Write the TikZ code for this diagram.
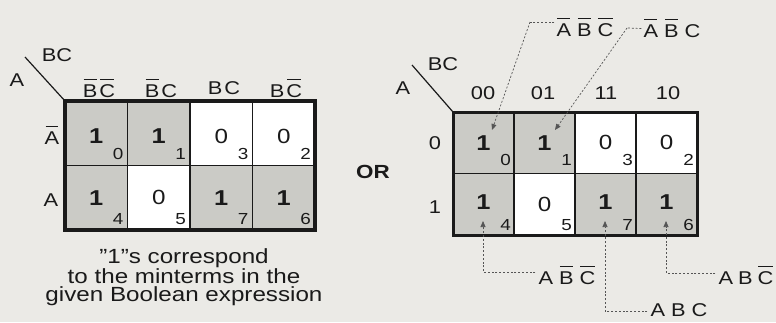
\documentclass[tikz,border=0pt]{standalone}
\usepackage{fontspec}
\setmainfont[FakeStretch=1.18]{Liberation Sans}
\usetikzlibrary{arrows.meta}
\definecolor{bgc}{HTML}{EBEAE6}
\definecolor{cellg}{HTML}{CBCBC6}
\definecolor{ink}{HTML}{1A1A1A}
\definecolor{dashc}{HTML}{555555}
\newcommand{\nb}[1]{\setbox0\hbox{#1}\rlap{\kern0.8pt\raisebox{\dimexpr\ht0+4.5pt\relax}{\rule{\dimexpr\wd0-1.6pt\relax}{1.4pt}}}\box0}
\tikzset{
  lcell/.style={draw=ink, line width=1.6pt, minimum width=62.5pt, minimum height=64.5pt, inner sep=0pt, outer sep=0pt},
  rcell/.style={draw=ink, line width=1.4pt, minimum width=61pt, minimum height=61.5pt, inner sep=0pt, outer sep=0pt},
  gr/.style={fill=cellg},
  wh/.style={fill=white},
  one/.style={font=\fontsize{21.5}{21.5}\selectfont\bfseries, text=ink, inner sep=0pt},
  zero/.style={font=\fontsize{20.5}{20.5}\selectfont, text=ink, inner sep=0pt},
  sub/.style={font=\fontsize{16}{16}\selectfont, text=ink, inner sep=0pt, anchor=base east},
  hdr/.style={font=\fontsize{18.5}{18.5}\selectfont, text=ink, inner sep=0pt},
  lbl/.style={font=\fontsize{18.5}{18.5}\selectfont, text=ink, inner sep=0pt},
  conn/.style={draw=dashc, line width=0.7pt, dash pattern=on 2pt off 1.8pt},
  tipa/.style={-{Triangle[length=6pt,width=5pt]}},
}
\begin{document}
\begin{tikzpicture}[x=1pt,y=-1pt]
\fill[bgc] (0,0) rectangle (776,322);
\useasboundingbox (0,0) rectangle (776,322);
% ---------- left map ----------
\node[lcell,gr] (L0) at (96.25,133.25) {};
\node[lcell,gr] (L1) at (158.75,133.25) {};
\node[lcell,wh] (L3) at (221.25,133.25) {};
\node[lcell,wh] (L2) at (283.75,133.25) {};
\node[lcell,gr] (L4) at (96.25,197.75) {};
\node[lcell,wh] (L5) at (158.75,197.75) {};
\node[lcell,gr] (L7) at (221.25,197.75) {};
\node[lcell,gr] (L6) at (283.75,197.75) {};
\draw[ink, line width=3.5pt] (L0.north west) rectangle (L6.south east);
\node[one] at ([yshift=-3pt]L0.center) {1};
\node[one] at ([yshift=-3pt]L1.center) {1};
\node[zero] at ([yshift=-3pt]L3.center) {0};
\node[zero] at ([yshift=-3pt]L2.center) {0};
\node[one] at (L4.center) {1};
\node[zero] at (L5.center) {0};
\node[one] at (L7.center) {1};
\node[one] at (L6.center) {1};
\foreach \c/\n in {L0/0,L1/1,L3/3,L2/2,L4/4,L5/5,L7/7,L6/6}
  \node[sub] at ([xshift=-4pt,yshift=6pt]\c.south east) {\n};
\node[hdr] (lh0) at (99,88) {\nb{B}\kern2pt\nb{C}};
\node[hdr] (lh1) at (161,88) {\nb{B}\kern2pt C};
\node[hdr] (lh3) at (224,88) {B\kern2pt C};
\node[hdr] (lh2) at (286,88) {B\kern2pt\nb{C}};
\node[hdr] (lrA0) at (52,135) {\nb{A}};
\node[hdr] (lrA1) at (51,200) {A};
\node[hdr] (lA) at (17,80) {A};
\node[hdr] (lBC) at (57,55) {BC};
\coordinate (ld0) at (25,57);
\draw[ink, line width=1.2pt] (ld0) -- (L0.north west);
\node[font=\fontsize{20.5}{18.5}\selectfont, text=ink, align=center, inner sep=0pt] (cap) at (184,277)
  {"1"s correspond\\to the minterms in the\\given Boolean expression};
% ---------- right map ----------
\node[rcell,gr] (R0) at (483.5,142.75) {};
\node[rcell,gr] (R1) at (544.5,142.75) {};
\node[rcell,wh] (R3) at (605.5,142.75) {};
\node[rcell,wh] (R2) at (666.5,142.75) {};
\node[rcell,gr] (R4) at (483.5,204.25) {};
\node[rcell,wh] (R5) at (544.5,204.25) {};
\node[rcell,gr] (R7) at (605.5,204.25) {};
\node[rcell,gr] (R6) at (666.5,204.25) {};
\draw[ink, line width=3pt] (R0.north west) rectangle (R6.south east);
\node[one] (v0) at (R0.center) {1};
\node[one] (v1) at (R1.center) {1};
\node[zero] at (R3.center) {0};
\node[zero] at (R2.center) {0};
\node[one] (v4) at ([yshift=2pt]R4.center) {1};
\node[zero] at (R5.center) {0};
\node[one] (v7) at ([yshift=2pt]R7.center) {1};
\node[one] (v6) at ([yshift=2pt]R6.center) {1};
\foreach \c/\n in {R0/0,R1/1,R3/3,R2/2}
  \node[sub] at ([xshift=-3pt,yshift=8pt]\c.south east) {\n};
\foreach \c/\n in {R4/4,R5/5,R7/7,R6/6}
  \node[sub] at ([xshift=-3pt,yshift=5pt]\c.south east) {\n};
\node[hdr] (rh0) at (483,93) {00};
\node[hdr] (rh1) at (543,93) {01};
\node[hdr] (rh3) at (606,93) {11};
\node[hdr] (rh2) at (668,93) {10};
\node[hdr] (rr0) at (435,143) {0};
\node[hdr] (rr1) at (435,207) {1};
\node[hdr] (rA) at (403,88) {A};
\node[hdr] (rBC) at (443,64) {BC};
\coordinate (rd0) at (412,65);
\draw[ink, line width=1.2pt] (rd0) -- (R0.north west);
\node[font=\fontsize{19}{19}\selectfont\bfseries, text=ink, inner sep=0pt] (or) at (373,172) {OR};
% labels
\node[lbl] (t0) at (585,27) {\nb{A}\hspace{6pt}\nb{B}\hspace{6pt}\nb{C}};
\node[lbl] (t1) at (672,28.5) {\nb{A}\hspace{6pt}\nb{B}\hspace{6pt}C};
\node[lbl] (b4) at (567,275) {A\hspace{6pt}\nb{B}\hspace{6pt}\nb{C}};
\node[lbl] (b7) at (679,310) {A\hspace{6pt}B\hspace{6pt}C};
\node[lbl] (b6) at (746,275) {A\hspace{5pt}B\hspace{5pt}\nb{C}};
% connector targets
\coordinate (a0) at (492,130);
\coordinate (a1) at (555,130);
\coordinate (a4) at (483,221);
\coordinate (a7) at (605,221);
\coordinate (a6) at (666,221);
\coordinate (k0) at (530,22);
\coordinate (k1) at (627,28);
\draw[conn] ([xshift=-2pt,yshift=5pt]t0.west) -- (k0);
\draw[conn,tipa] (k0) -- (a0);
\draw[conn] ([xshift=-2pt]t1.west) -- (k1);
\draw[conn,tipa] (k1) -- (a1);
\draw[conn,tipa] ([xshift=-3pt,yshift=3pt]b4.west) -| (a4);
\draw[conn,tipa] ([xshift=-3pt,yshift=-1pt]b7.west) -| (a7);
\draw[conn,tipa] ([xshift=-3pt,yshift=2pt]b6.west) -| (a6);
\end{tikzpicture}
\end{document}
